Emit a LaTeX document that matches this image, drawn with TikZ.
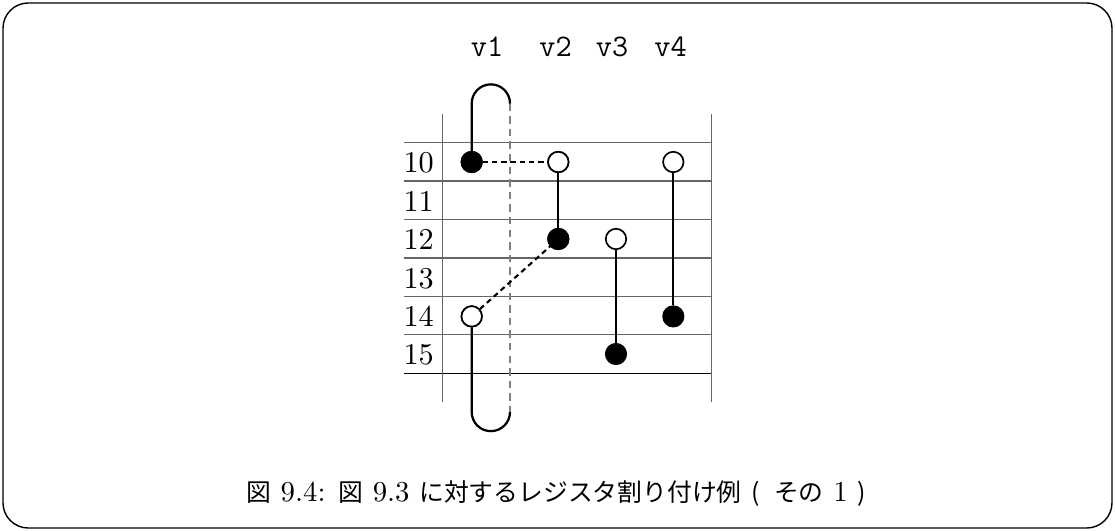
\documentclass[tikz,border=0pt]{standalone}
\usepackage{fontspec}
\newfontfamily\cjk{Noto Sans CJK JP}[Scale=0.86]
\begin{document}
\begin{tikzpicture}[x=0.3571pt,y=-0.3571pt,
  gridline/.style={draw=black!60,line width=0.45pt},
  filled/.style={circle,draw=black,fill=black,line width=0.6pt,minimum size=7.3pt,inner sep=0pt},
  hollow/.style={circle,draw=black,fill=white,line width=0.6pt,minimum size=7.3pt,inner sep=0pt},
  live/.style={draw=black,line width=0.8pt},
  move/.style={draw=black,line width=0.75pt,dash pattern=on 1.9pt off 1.4pt},
  spill/.style={draw=black!50,line width=0.75pt,dash pattern=on 2.7pt off 1.8pt},
  rowlab/.style={font=\fontsize{10.8}{13}\selectfont,inner sep=0pt},
  collab/.style={font=\ttfamily\fontsize{11.2}{13}\selectfont,inner sep=0pt}]
\useasboundingbox (0,0) rectangle (1115,531);
\draw[line width=0.5pt,rounded corners=9pt] (3,3) rectangle (1112,528);
% grid
\foreach \k in {0,...,5} {
  \draw[gridline] (404,{142.7+38.43*\k}) -- (711.7,{142.7+38.43*\k});
}
\draw[draw=black,line width=0.45pt] (404,373.3) -- (711.7,373.3);
\draw[gridline] (442.7,114) -- (442.7,401.7);
\draw[gridline] (711.7,114) -- (711.7,401.7);
% row labels
\foreach \r [count=\i from 0] in {10,11,12,13,14,15} {
  \node[rowlab] (r\r) at (418.7,{163+38.43*\i}) {\r};
}
% column labels
\node[collab,anchor=base] (h1) at (487,56.7) {v1};
\node[collab,anchor=base] (h2) at (555.5,56.7) {v2};
\node[collab,anchor=base] (h3) at (612,56.7) {v3};
\node[collab,anchor=base] (h4) at (670.5,56.7) {v4};
% coordinates of the spill loop
\coordinate (t1) at (471.7,103.5);
\coordinate (t2) at (510,103.5);
\coordinate (b2) at (510,412);
\coordinate (b1) at (471.7,412);
% points
\node[filled] (a10) at (471.7,162) {};
\node[hollow] (a14) at (471.7,316.4) {};
\node[hollow] (b10) at (558.3,162) {};
\node[filled] (b12) at (558.3,239) {};
\node[hollow] (c12) at (616,239) {};
\node[filled] (c15) at (616,354) {};
\node[hollow] (d10) at (673.3,162) {};
\node[filled] (d14) at (673.3,316.4) {};
% spill loop
\draw[spill] (t2) -- (b2);
\draw[live] (a10.north) -- (t1) arc[start angle=180,end angle=0,radius=6.84pt];
\draw[live] (b2) arc[start angle=0,end angle=-180,radius=6.84pt] -- (a14.south);
% moves
\draw[move] (a10) -- (b10);
\draw[move] (a14) -- (b12);
% live ranges
\draw[live] (b10) -- (b12);
\draw[live] (c12) -- (c15);
\draw[live] (d10) -- (d14);
\node[filled] at (a10) {};
\node[hollow] at (b10) {};
\node[filled] at (b12) {};
\node[hollow] at (a14) {};
% caption
\node[font=\fontsize{10.3}{12}\selectfont,inner sep=0pt] (cap) at (556,494)
  {{\cjk 図} 9.4: {\cjk 図} 9.3 {\cjk に対するレジスタ割り付け例} {\cjk (}\, {\cjk その} 1 {\cjk )}};
\end{tikzpicture}
\end{document}
